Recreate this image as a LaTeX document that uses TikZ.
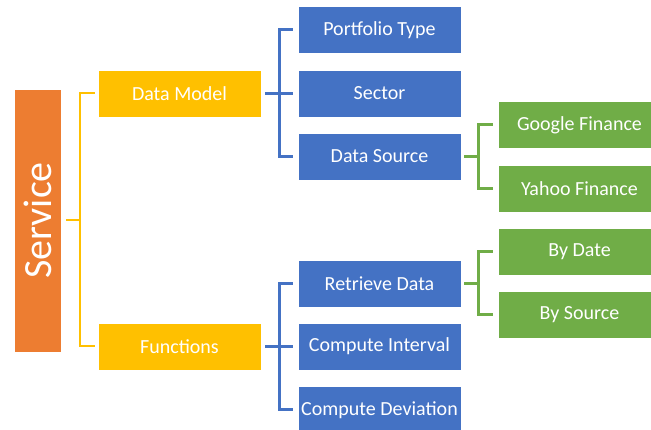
\documentclass[tikz,border=0pt]{standalone}
\usepackage{fontspec}
\setmainfont{Carlito}
\usepackage{xcolor}
\usetikzlibrary{calc}
\definecolor{srvorange}{HTML}{ED7D31}
\definecolor{lvlyellow}{HTML}{FFC000}
\definecolor{lvlblue}{HTML}{4472C4}
\definecolor{lvlgreen}{HTML}{70AD47}
\tikzset{
  box/.style={
    shape = rectangle,
    draw = white,
    line width = 0.6pt,
    text = white,
    minimum width = 163pt,
    minimum height = 47pt,
    inner sep = 0pt,
    font = \fontsize{20}{24}\selectfont
  },
  servicebox/.style={
    box,
    fill = srvorange,
    rotate = 90,
    minimum width = 263pt,
    minimum height = 47pt,
    font = \fontsize{40}{48}\selectfont
  },
  ybox/.style={box, fill = lvlyellow},
  bbox/.style={box, fill = lvlblue},
  gbox/.style={box, fill = lvlgreen},
  yline/.style={draw = lvlyellow, line width = 2pt},
  bline/.style={draw = lvlblue, line width = 3pt},
  gline/.style={draw = lvlgreen, line width = 3pt}
}

\begin{document}
\begin{tikzpicture}[x=1pt, y=-1pt]
        \useasboundingbox (0,0) rectangle (651,430);
        \clip (0,0) rectangle (651,430);
        % levels
        \node[servicebox] (service) at (37.5,220.5) {Service};
        \node[ybox] (model) at (179.5,93.5) {Data Model};
        \node[ybox] (funcs) at (179.5,346.5) {Functions};
        \node[bbox] (ptype) at (379.5,30) {Portfolio Type};
        \node[bbox] (sector) at (379.5,93.5) {Sector};
        \node[bbox] (dsource) at (379.5,156.5) {Data Source};
        \node[bbox] (retrieve) at (379.5,283.5) {Retrieve Data};
        \node[bbox] (interval) at (379.5,346.5) {Compute Interval};
        \node[bbox] (deviation) at (379.5,410) {Compute Deviation};
        \node[gbox] (google) at (579.5,125) {Google Finance};
        \node[gbox] (yahoo) at (579.5,188.5) {Yahoo Finance};
        \node[gbox] (bydate) at (579.5,251.5) {By Date};
        \node[gbox] (bysource) at (579.5,315) {By Source};
        % brackets
        \coordinate (yjoin) at (80,220.5);
        \draw[yline, shorten <=5pt] (service.south) -- (yjoin);
        \draw[yline, shorten >=3pt] (yjoin) |- (model.west);
        \draw[yline, shorten >=3pt] (yjoin) |- (funcs.west);
        \coordinate (bjoinA) at (279,93.5);
        \draw[bline, shorten <=4pt] (model.east) -- (bjoinA);
        \draw[bline, shorten >=5pt] (bjoinA) |- (ptype.west);
        \draw[bline, shorten >=5pt] (bjoinA) |- (dsource.west);
        \draw[bline, shorten >=5pt] (bjoinA) -- (sector.west);
        \coordinate (bjoinB) at (279,346.5);
        \draw[bline, shorten <=4pt] (funcs.east) -- (bjoinB);
        \draw[bline, shorten >=5pt] (bjoinB) |- (retrieve.west);
        \draw[bline, shorten >=5pt] (bjoinB) |- (deviation.west);
        \draw[bline, shorten >=5pt] (bjoinB) -- (interval.west);
        \coordinate (gjoinA) at (478,156.5);
        \draw[gline, shorten <=3pt] (dsource.east) -- (gjoinA);
        \draw[gline, shorten >=5pt] (gjoinA) |- (google.west);
        \draw[gline, shorten >=5pt] (gjoinA) |- (yahoo.west);
        \coordinate (gjoinB) at (478,283.5);
        \draw[gline, shorten <=3pt] (retrieve.east) -- (gjoinB);
        \draw[gline, shorten >=5pt] (gjoinB) |- (bydate.west);
        \draw[gline, shorten >=5pt] (gjoinB) |- (bysource.west);
    \end{tikzpicture}
\end{document}
